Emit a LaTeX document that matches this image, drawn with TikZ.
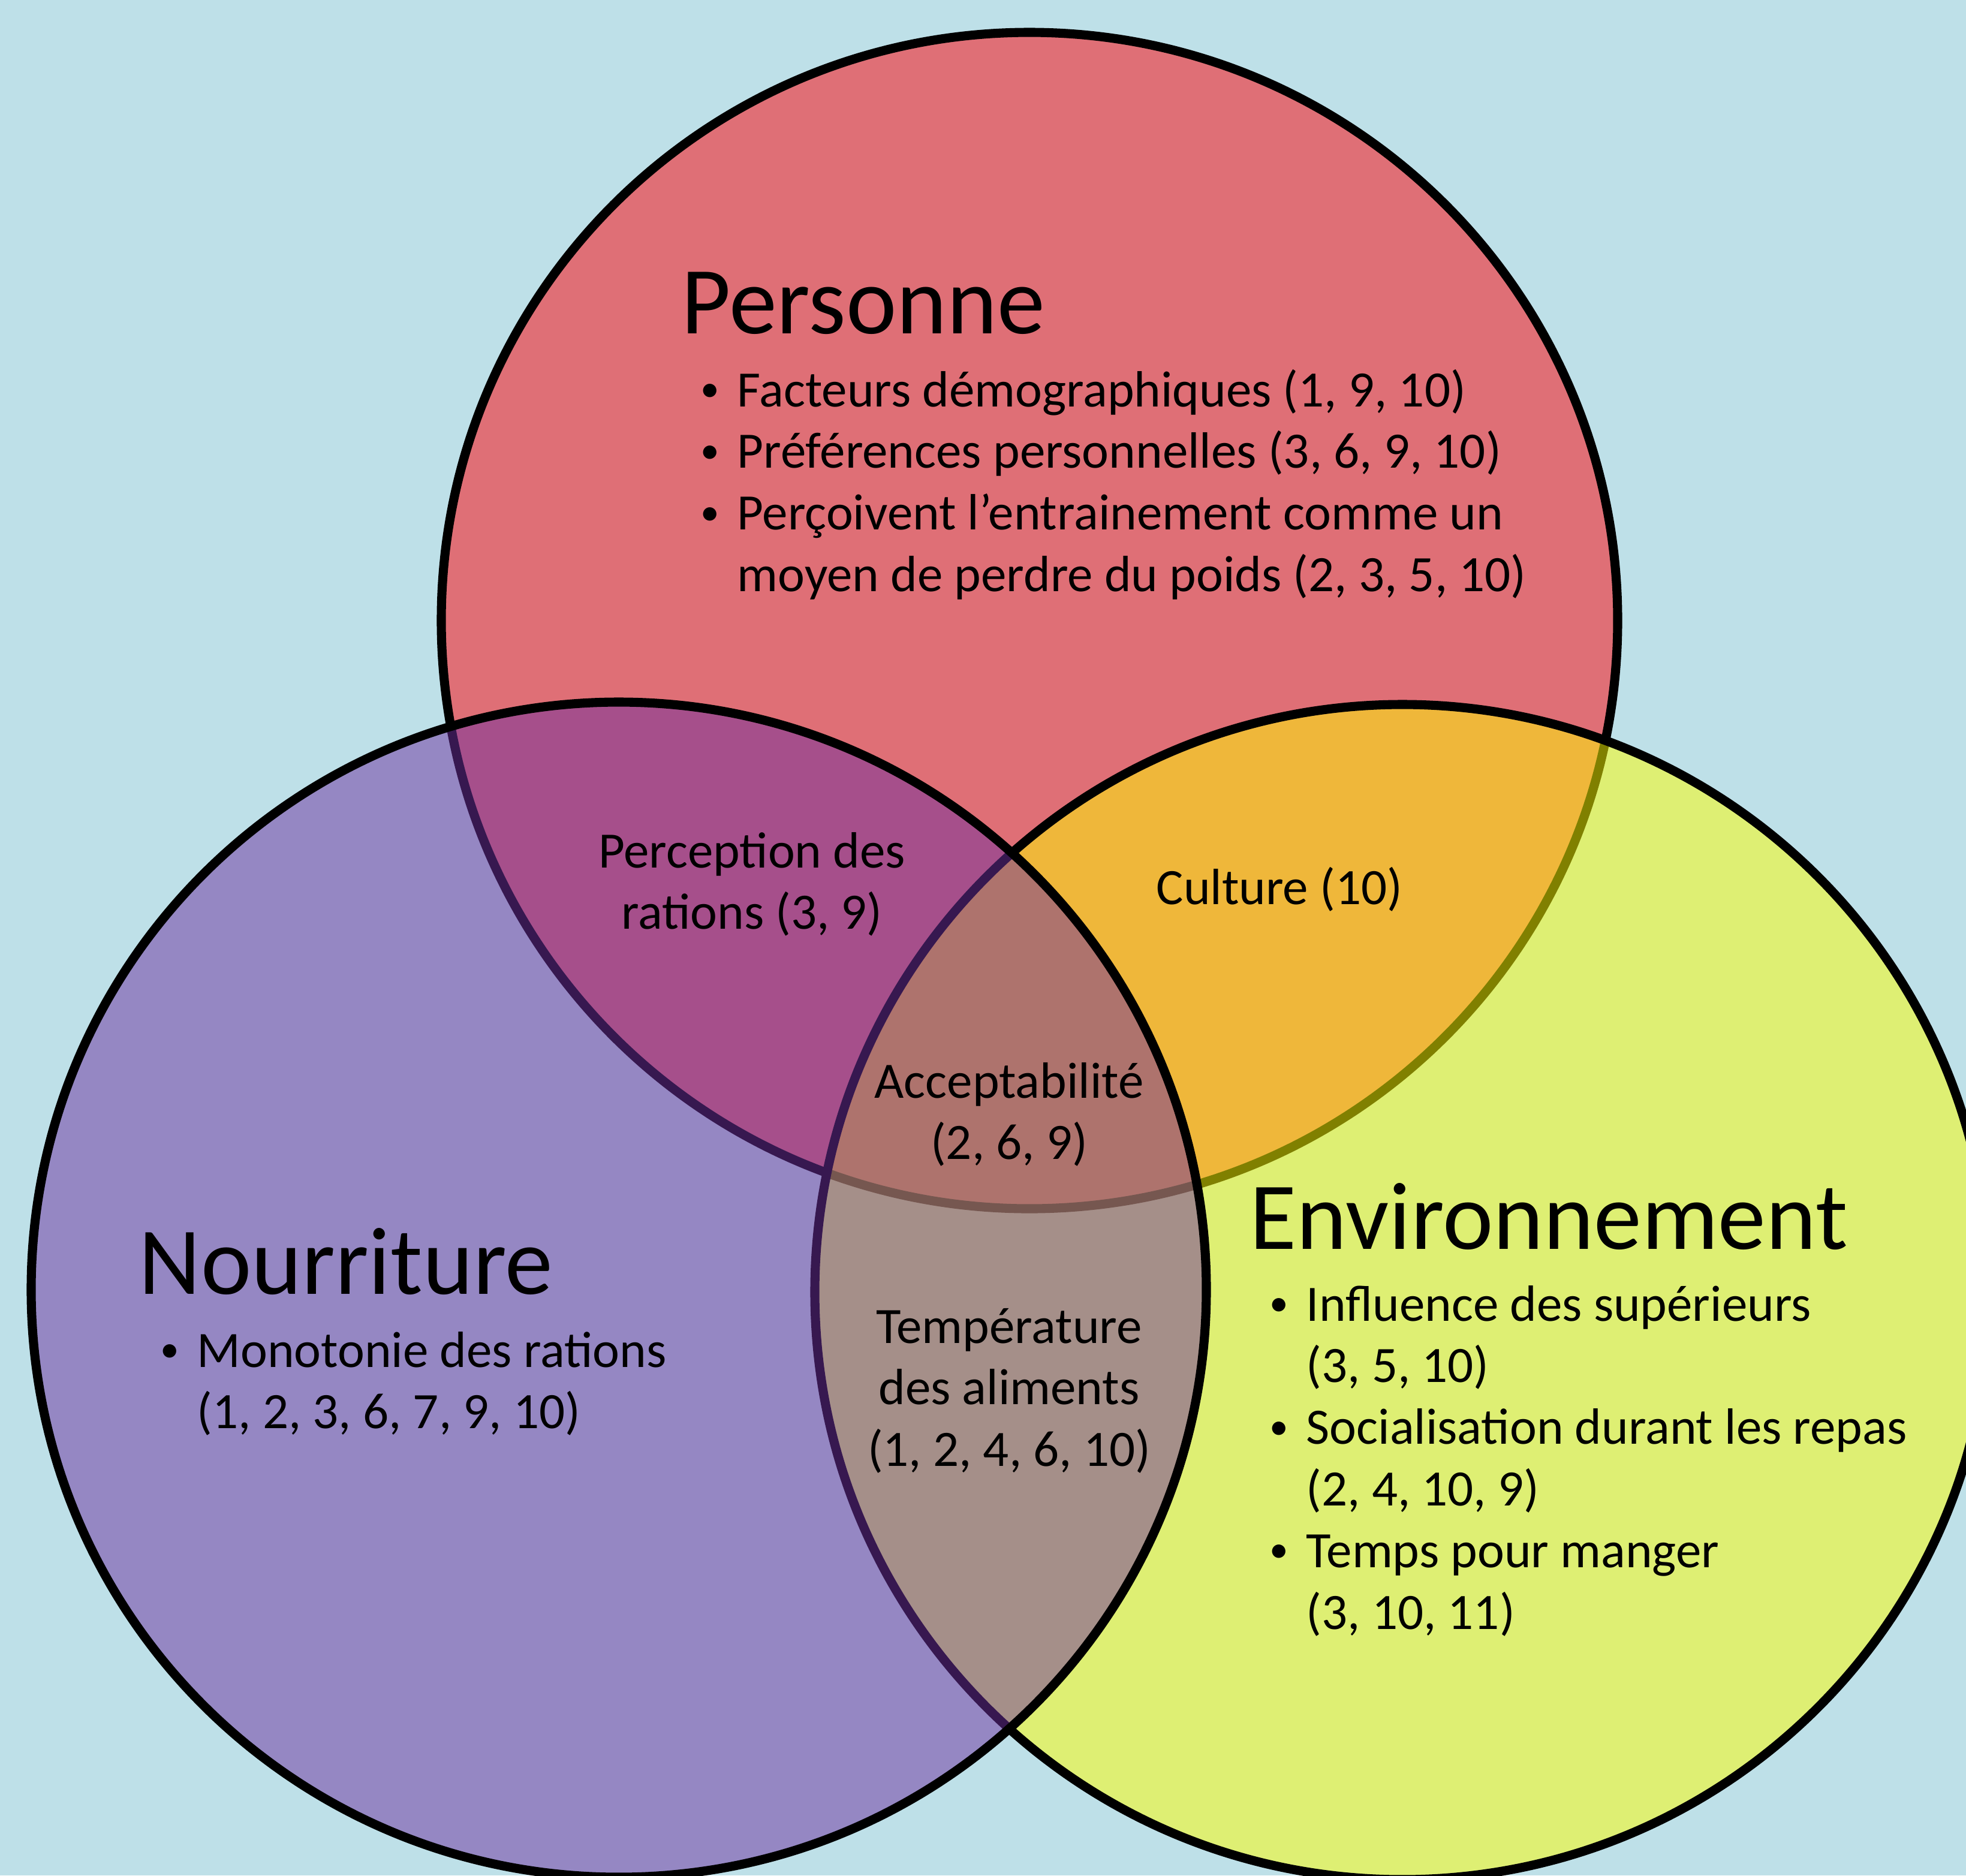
\documentclass[tikz,border=0pt]{standalone}
\usepackage{fontspec}
\setmainfont{Carlito}

\definecolor{skyback}{RGB}{190,224,232}
\definecolor{personred}{RGB}{223,111,118}
\definecolor{foodviolet}{RGB}{110,48,160}
\definecolor{envyellow}{RGB}{255,255,0}

\tikzset{
  ring/.style={line width=4.3pt},
  settitle/.style={anchor=base west, inner sep=0pt, font=\fontsize{45.5}{55}\selectfont},
  items/.style={anchor=base west, inner sep=0pt, text width=#1, align=flush left, font=\fontsize{24.2}{29.25}\selectfont},
  overlap/.style={anchor=base, inner sep=0pt, text width=6cm, align=flush center, font=\fontsize{24.2}{29.25}\selectfont}
}
\newcommand{\itm}{\leavevmode\llap{\raisebox{0.1em}{\fontsize{18}{20}\selectfont\textbullet}\hspace{0.3cm}}}

\begin{document}
\begin{tikzpicture}
    \useasboundingbox (0, 0) rectangle (32.79, -31.28);
    \fill[skyback] (0, 0) rectangle (32.79, -31.28);

    % the three sets
    \coordinate (cperson) at (17.17, -10.35);
    \coordinate (cfood) at (10.32, -21.51);
    \coordinate (cenv) at (23.39, -21.55);

    \filldraw[ring, fill=personred] (cperson) circle (9.81);
    \filldraw[ring, fill=envyellow, fill opacity=0.5] (cenv) circle (9.80);
    \filldraw[ring, fill=foodviolet, fill opacity=0.5] (cfood) circle (9.80);

    % titles and lists
    \node[settitle] (personne) at (11.36, -5.56) {Personne};
    \node[items=15cm] (personitems) at (12.29, -6.78) {\itm Facteurs démographiques (1, 9, 10)\\ \itm Préférences personnelles (3, 6, 9, 10)\\ \itm Perçoivent l’entrainement comme un\\ moyen de perdre du poids (2, 3, 5, 10)};

    \node[settitle] (nourriture) at (2.31, -21.58) {Nourriture};
    \node[items=10cm] (fooditems) at (3.28, -22.80) {\itm Monotonie des rations\\ (1, 2, 3, 6, 7, 9, 10)};

    \node[settitle] (environnement) at (20.84, -20.83) {Environnement};
    \node[items=13cm] (envitems) at (21.78, -22.03) {\itm Influence des supérieurs\\ (3, 5, 10)\\ \itm Socialisation durant les repas\\ (2, 4, 10, 9)\\ \itm Temps pour manger\\ (3, 10, 11)};

    % overlaps
    \node[overlap] (perception) at (12.54, -14.47) {Perception des\\ rations (3, 9)};
    \node[overlap] (culture) at (21.34, -15.08) {Culture (10)};
    \node[overlap] (accept) at (16.83, -18.31) {Acceptabilité\\ (2, 6, 9)};
    \node[overlap] (temp) at (16.83, -22.40) {Température\\ des aliments\\ (1, 2, 4, 6, 10)};
\end{tikzpicture}
\end{document}
